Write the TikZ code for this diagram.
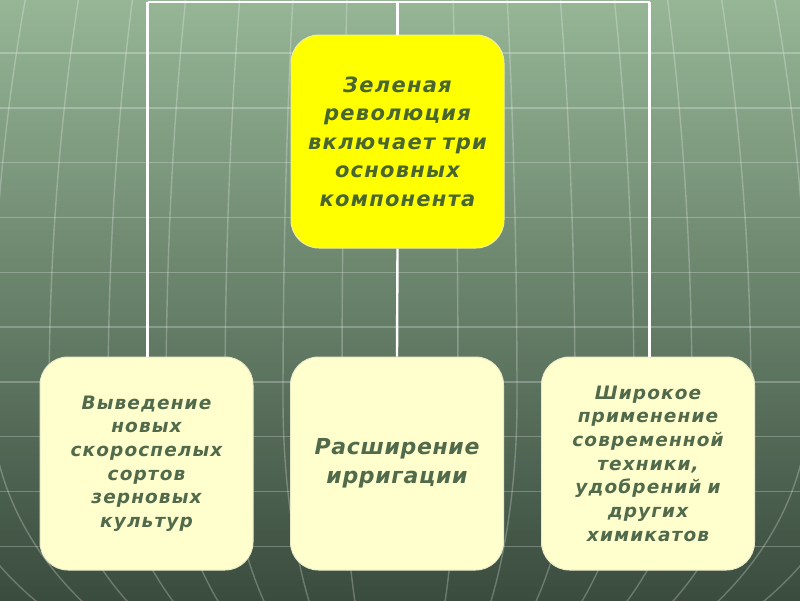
\documentclass[tikz,border=0pt]{standalone}
\usepackage{fontspec}
\setmainfont{DejaVu Sans}
\definecolor{bgtop}{RGB}{150,182,150}
\definecolor{bgmid}{RGB}{102,131,106}
\definecolor{bgbot}{RGB}{58,76,62}
\definecolor{yell}{RGB}{255,255,0}
\definecolor{cream}{RGB}{255,255,206}
\definecolor{toptext}{RGB}{72,102,46}
\definecolor{bottext}{RGB}{82,106,76}
\definecolor{yborder}{RGB}{240,240,150}
\definecolor{cborder}{RGB}{235,235,200}
\tikzset{
  gridline/.style={draw=white, opacity=0.25, line width=1.4},
  link/.style={draw=white, line width=2.4},
  box/.style={rounded corners=28, minimum width=213, minimum height=213,
    text width=205, align=center, inner sep=0, line width=1},
  topbox/.style={box, fill=yell, draw=yborder,
    text=toptext, font=\fontsize{21}{28.5}\selectfont\bfseries\itshape\addfontfeature{LetterSpace=6}},
  lowbox/.style={box, fill=cream, draw=cborder,
    text=bottext, font=\fontsize{18.5}{23.7}\selectfont\bfseries\itshape\addfontfeature{LetterSpace=6}},
  midtext/.style={font=\fontsize{22}{29}\selectfont\bfseries\itshape\addfontfeature{LetterSpace=3}}
}
\begin{document}
\begin{tikzpicture}[x=1pt,y=-1pt]
\useasboundingbox (0,0) rectangle (800,600);
\shade[top color=bgtop, middle color=bgmid, bottom color=bgbot] (0,0) rectangle (800,600);
\begin{scope}
\clip (0,0) rectangle (800,600);
\foreach \k in {0,...,9} {
  \draw[gridline] (0,{53+54.8*\k}) -- (800,{53+54.8*\k});
}
\foreach \a in {58,117,175,234,292,351,409,468,526} {
  \draw[gridline] plot[domain=0:24,samples=30,smooth] ({400-\a*cos(\x)},{400-1000*sin(\x)});
  \draw[gridline] plot[domain=0:24,samples=30,smooth] ({400+\a*cos(\x)},{400-1000*sin(\x)});
  \draw[gridline] plot[domain=0:40,samples=30,smooth] ({400-\a*cos(\x)},{400+320*sin(\x)});
  \draw[gridline] plot[domain=0:40,samples=30,smooth] ({400+\a*cos(\x)},{400+320*sin(\x)});
}
\end{scope}

\coordinate (tl) at (147.5,2);
\coordinate (tm) at (397.5,2);
\coordinate (tr) at (649.5,2);

\node[topbox] (top) at (397.5,141.5) {Зеленая\\революция\\включает три\\основных\\компонента};
\node[lowbox] (left) at (146.5,463.5) {Выведение\\новых\\скороспелых\\сортов\\зерновых\\культур};
\node[lowbox, midtext] (mid) at (397,463.5) {Расширение\\ирригации};
\node[lowbox] (right) at (648,463.5) {Широкое\\применение\\современной\\техники,\\удобрений и\\других\\химикатов};

\draw[link] (tl) -- (tr);
\draw[link] (tl) -- (tl |- left.north);
\draw[link] (tr) -- (tr |- right.north);
\draw[link] (tm) -- (top.north);
\draw[link] (top.south) -- (mid.north);
\end{tikzpicture}
\end{document}
